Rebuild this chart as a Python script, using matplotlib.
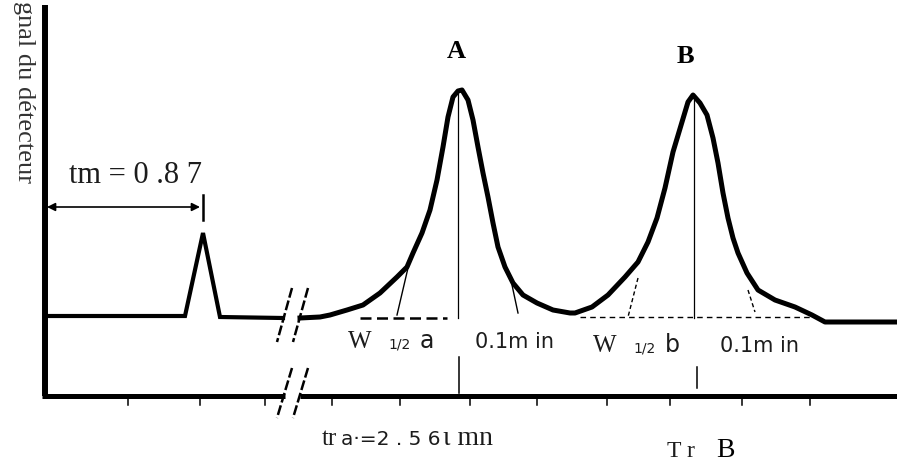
import matplotlib
matplotlib.use("Agg")
import matplotlib.pyplot as plt

# ---- data (schematic units: x = time position, y = detector signal above baseline) ----
# dead-time peak (tm)
dead_x = [45, 185, 203, 220, 283]
dead_y = [2, 2, 85, 1, 0]

# peaks A and B trace
trace_x = [300, 320, 330, 347, 363, 380, 397, 407, 413, 422, 430, 437, 443, 448, 453, 458, 462,
           468, 473, 478, 483, 488, 493, 498, 505, 513, 523, 537, 553, 570, 575,
           592, 608, 625, 638, 648, 657, 665, 673, 682, 688, 693, 700, 707, 713, 718, 723, 728,
           733, 738, 747, 758, 775, 795, 812, 825, 897]
trace_y = [0, 1, 3, 8, 13, 25, 41, 51, 65, 85, 108, 138, 171, 201, 221, 227, 228,
           218, 198, 171, 145, 121, 95, 71, 51, 35, 23, 15, 8, 5, 5,
           11, 23, 41, 56, 76, 100, 130, 166, 196, 216, 223, 215, 203, 180, 155, 125, 100,
           80, 65, 45, 28, 18, 11, 3, -4, -4]

# retention positions
peak_names = ["A", "B"]
peak_pos = [458, 694]
peak_top = [226, 218]
peak_tick = [(-39, -75), (-49, -70)]

# x ticks
tick_x = [128, 200, 265, 332, 400, 470, 537, 607, 670, 742, 810]

AX_Y = -78
BASE_Y = 0
TXT = "#1c1c1c"
SERIF = ["Liberation Serif", "DejaVu Serif"]
SANS = ["DejaVu Sans"]

fig = plt.figure(figsize=(8.97, 4.63), dpi=100)
ax = fig.add_axes([0, 0, 1, 1])
ax.set_xlim(0, 897)
ax.set_ylim(-145, 318)
ax.axis("off")

# axes (with break)
ax.plot([45, 45], [313, AX_Y], color="black", lw=4.3, solid_capstyle="butt")
ax.plot([42, 285], [AX_Y, AX_Y], color="black", lw=3.6, solid_capstyle="butt")
ax.plot([300, 897], [AX_Y, AX_Y], color="black", lw=3.6, solid_capstyle="butt")
for tx in tick_x:
    ax.plot([tx, tx], [AX_Y - 1, AX_Y - 9], color="black", lw=1.1)

# break marks
for dx in (0, 16):
    ax.plot([292 + dx, 277 + dx], [30, -24], color="black", lw=1.8, ls=(0, (4, 1.2)))
    ax.plot([292 + dx, 277 + dx], [-50, -100], color="black", lw=1.8, ls=(0, (4, 1.2)))

# chromatogram trace
ax.plot(dead_x, dead_y, color="black", lw=3.0, solid_joinstyle="miter")
ax.plot(trace_x, trace_y, color="black", lw=3.6, solid_joinstyle="round")

# baselines / tangents
ax.plot([360, 447], [BASE_Y, BASE_Y], color="black", lw=1.8, ls=(0, (4.4, 2.2)))
ax.plot([580, 810], [1, 1], color="black", lw=1.0, ls=(0, (4, 3)))
ax.plot([408, 397], [50, 3], color="black", lw=1.0)
ax.plot([512, 518], [33, 5], color="black", lw=1.0)
ax.plot([638, 628], [40, 1], color="black", lw=1.0, ls=(0, (3, 2)))
ax.plot([748, 755], [28, 6], color="black", lw=1.0, ls=(0, (3, 2)))

# retention lines
for name, px, top, tk in zip(peak_names, peak_pos, peak_top, peak_tick):
    ax.plot([px, px], [top, 0], color="black", lw=0.9)
    ax.plot([px + (1 if name == "A" else 3)] * 2, list(tk), color="black", lw=1.1)

# tm arrow
ax.annotate("", xy=(47, 111), xytext=(200, 111),
            arrowprops=dict(arrowstyle="<|-|>", lw=1.2, color="black", mutation_scale=12,
                            shrinkA=0, shrinkB=0))
ax.plot([203, 203], [123, 98], color="black", lw=1.8)

# texts
ax.text(24, 317, "gnal du détecteur", rotation=-90, ha="center", va="top",
        fontsize=19, family=SERIF, color="#333333")
ax.text(69, 135, "tm = 0 .8 7", ha="left", va="baseline", fontsize=22, family=SERIF, color=TXT)
ax.text(456, 260, "A", ha="center", va="baseline", fontsize=19, family=SERIF, fontweight="bold", color="black")
ax.text(685, 255, "B", ha="center", va="baseline", fontsize=19, family=SERIF, fontweight="bold", color="black")

for wx, sub, lab, lx, bl in [(348, "1/2", "a", 475, -30), (593, "1/2", "b", 720, -34)]:
    ax.text(wx, bl, "W", ha="left", va="baseline", fontsize=18, family=SERIF, color=TXT)
    ax.text(wx + 40, bl - 1, sub, ha="left", va="baseline", fontsize=10, family=SANS, color=TXT)
    ax.text(wx + 72, bl, lab, ha="left", va="baseline", fontsize=17, family=SANS, color=TXT)
    ax.text(lx, bl, "0.1m in", ha="left", va="baseline", fontsize=15, family=SANS, color=TXT)

ax.text(322, -127, "tr", ha="left", va="baseline", fontsize=18, family=SERIF, color=TXT)
ax.text(341, -127, "a·=2 . 5 6", ha="left", va="baseline", fontsize=14.5, family=SANS, color=TXT)
ax.text(443, -127, "ι mn", ha="left", va="baseline", fontsize=20, family=SERIF, color=TXT)

ax.text(667, -139, "T r", ha="left", va="baseline", fontsize=17, family=SERIF, color=TXT)
ax.text(716, -139, "B", ha="left", va="baseline", fontsize=20, family=SERIF, color="black")

fig.savefig("out.png", dpi=100, facecolor="white")
